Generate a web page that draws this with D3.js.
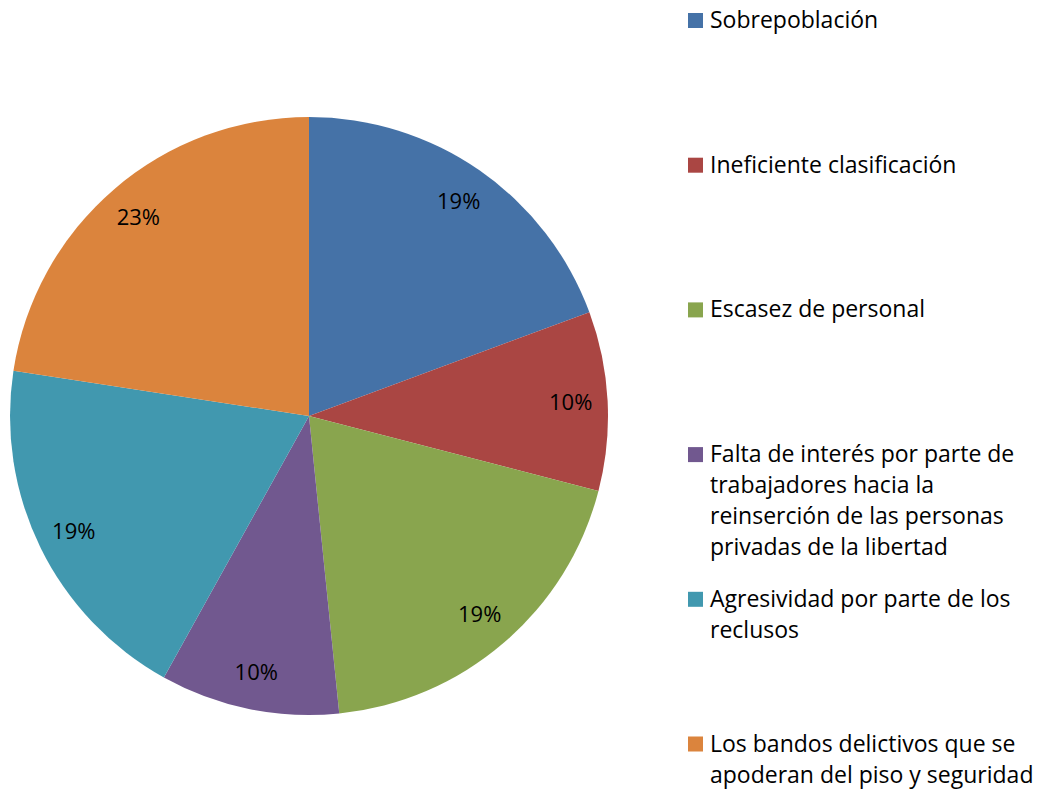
<!DOCTYPE html>
<html>
<head>
<meta charset="utf-8">
<script src="https://cdn.jsdelivr.net/npm/d3@7"></script>
<style>
  body { margin: 0; background: #fff; }
  svg text { font-family: "Open Sans", "Noto Sans", sans-serif; fill: #000; }
</style>
</head>
<body>
<div id="chart"></div>
<script>
// Categories (legend lines already broken as in the original)
const categories = [
  ['Sobrepoblación'],
  ['Ineficiente clasificación'],
  ['Escasez de personal'],
  ['Falta de interés por parte de', 'trabajadores hacia la', 'reinserción de las personas', 'privadas de la libertad'],
  ['Agresividad por parte de los', 'reclusos'],
  ['Los bandos delictivos que se', 'apoderan del piso y seguridad']
]
const counts = [6, 3, 6, 3, 6, 7]
const colors = ['#4572A7', '#AA4643', '#89A54E', '#71588F', '#4198AF', '#DB843D']

const svgWidth = 1039
const svgHeight = 789
const cx = 309, cy = 416, radius = 299

const data = counts.map((v, i) => ({ name: categories[i], value: v, color: colors[i] }))
const total = d3.sum(counts)

let svg = d3.select('#chart')
  .append('svg')
  .attr('width', svgWidth)
  .attr('height', svgHeight)

let pie = d3.pie()
  .value(d => d.value)
  .sort(null)

let arc = d3.arc().innerRadius(0).outerRadius(radius)
let labelArc = d3.arc().innerRadius(262).outerRadius(262)

let plot = svg.append('g')
  .attr('transform', 'translate(' + cx + ',' + cy + ')')

let slices = plot.selectAll('.slice')
  .data(pie(data))
  .enter()
  .append('g')
  .attr('class', 'slice')

slices.append('path')
  .attr('d', arc)
  .attr('fill', d => d.data.color)

slices.append('text')
  .attr('transform', d => 'translate(' + labelArc.centroid(d) + ')')
  .attr('text-anchor', 'middle')
  .attr('dy', '0.35em')
  .style('font-size', '22px')
  .text(d => Math.round(d.data.value / total * 100) + '%')

// Legend
let legend = svg.append('g').attr('class', 'legend')
  .attr('transform', 'translate(688,0)')

let items = legend.selectAll('.item')
  .data(data)
  .enter()
  .append('g')
  .attr('class', 'item')
  .attr('transform', (d, i) => 'translate(0,' + (20.5 + i * 144.7) + ')')

items.append('rect')
  .attr('x', 0)
  .attr('y', -7.5)
  .attr('width', 15)
  .attr('height', 15)
  .attr('fill', d => d.color)

items.append('text')
  .style('font-size', '23px')
  .selectAll('tspan')
  .data(d => d.name)
  .enter()
  .append('tspan')
  .attr('x', 22)
  .attr('y', (d, j) => 7.5 + j * 31)
  .text(d => d)
</script>
</body>
</html>
